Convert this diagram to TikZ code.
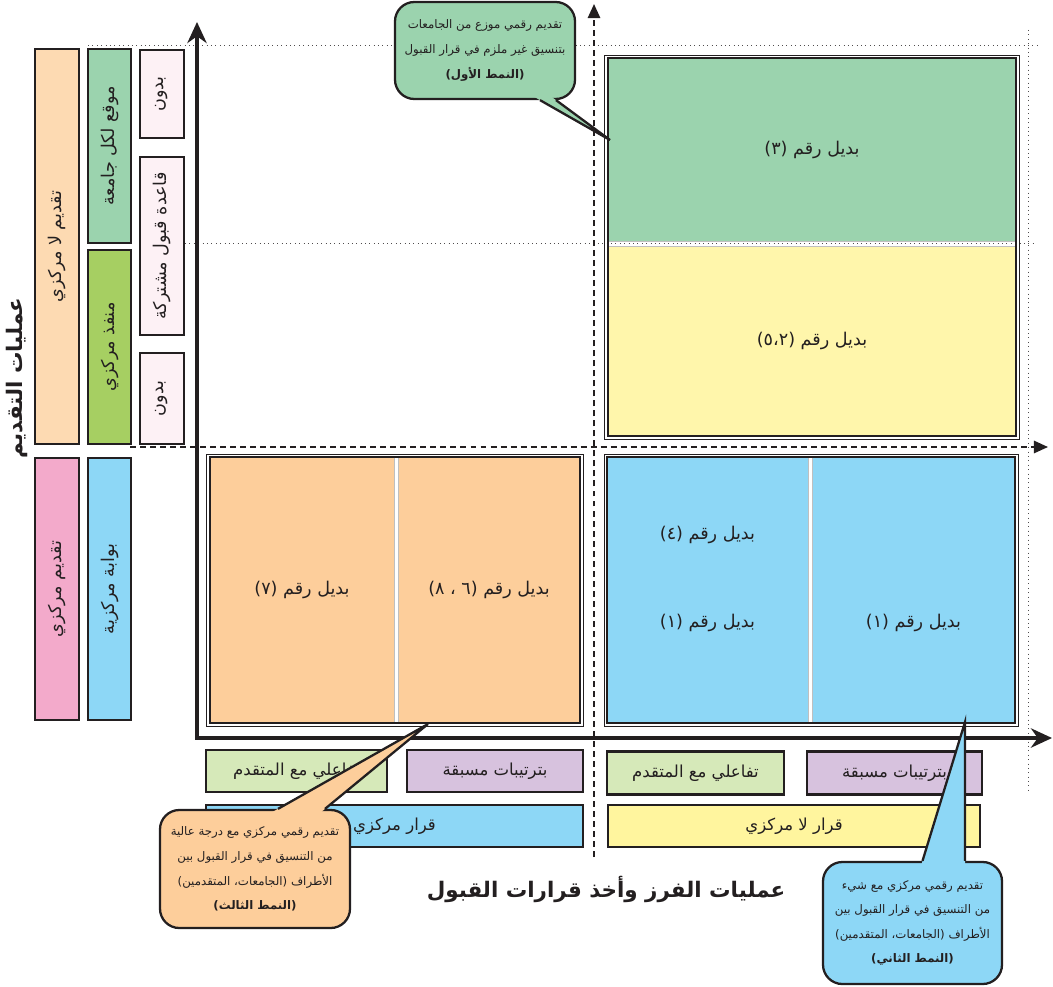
\documentclass[tikz,border=0pt]{standalone}
\usepackage{fontspec}
\newfontfamily\arabicfont[Script=Arabic]{DejaVu Sans}
\TeXXeTstate=1
\usetikzlibrary{arrows.meta,positioning,calc}

\definecolor{qgreen}{HTML}{9BD3AE}
\definecolor{qyellow}{HTML}{FFF6AB}
\definecolor{qblue}{HTML}{8DD7F6}
\definecolor{qorange}{HTML}{FDCE9B}
\definecolor{lorange}{HTML}{FDDAB2}
\definecolor{lpink}{HTML}{F3AACB}
\definecolor{lgreen}{HTML}{A6CF62}
\definecolor{vpink}{HTML}{FDF1F5}
\definecolor{pgreen}{HTML}{D6E9B9}
\definecolor{ppurple}{HTML}{D7C2DE}
\definecolor{byellow}{HTML}{FFF59E}
\definecolor{ink}{HTML}{231F20}

\newcommand{\artxt}[1]{\beginR #1\endR}

\tikzset{
  px/.style 2 args={minimum width=#1*0.02cm, minimum height=#2*0.02cm},
  lbl/.style={font=\arabicfont\fontsize{10}{12}\selectfont, text=ink},
  box/.style={lbl, draw=ink, line width=1.5pt, inner sep=0pt},
  vbox/.style={box, rotate=90},
  cell/.style={lbl, draw=gray!50, line width=0.4pt, inner sep=0pt},
  frame/.style={draw=ink, line width=1.6pt},
  outer/.style={draw=ink, line width=0.5pt},
  bubble/.style={draw=ink, line width=1.3pt, rounded corners=11pt, inner sep=0pt,
    align=center, text=ink, font=\arabicfont\fontsize{6.7}{14}\selectfont},
  tail/.style={draw=ink, line width=1.3pt, line join=miter},
  title/.style={font=\arabicfont\bfseries\fontsize{12.2}{15}\selectfont, text=ink},
  axis/.style={draw=ink, line width=2.8pt},
  guide/.style={draw=ink, dash pattern=on 3.4pt off 2.3pt, line width=1.1pt},
  dots/.style={draw=ink!80, dotted, line width=0.5pt},
}

\begin{document}
\begin{tikzpicture}[x=0.02cm, y=-0.02cm]
  \useasboundingbox (0,0) rectangle (1053,986);

  \draw[dots] (88,45) -- (1040,45);
  \draw[dots] (185,243) -- (1037,243);
  \draw[dots] (1028,30) -- (1028,790);

  \coordinate (o) at (197,738);
  \coordinate (ytop) at (197,22);
  \coordinate (xend) at (1052,738);
  \coordinate (mbot) at (594,857);
  \coordinate (mtop) at (594,4);
  \coordinate (mleft) at (130,447);
  \coordinate (mright) at (1048,447);

  \draw[guide, -{Triangle[length=8pt, width=7pt]}] (mbot) -- (mtop);
  \draw[guide, -{Triangle[length=8pt, width=7pt]}] (mleft) -- (mright);
  \draw[axis, line join=miter, {Stealth[length=12pt, width=11pt]}-{Stealth[length=12pt, width=11pt]}] (ytop) -- (o) -- (xend);

  \begin{scope}[every node/.style={vbox}]
    \node[fill=lorange, px={395}{44}] (cdec) at (57,246.5) {\artxt{تقديم لا مركزي}};
    \node[fill=lpink, px={262}{44}] (ccen) at (57,589) {\artxt{تقديم مركزي}};
    \node[fill=qgreen, px={194}{43}] (site) at (109.5,146) {\artxt{موقع لكل جامعة}};
    \node[fill=lgreen, px={194}{43}] (gate) at (109.5,347) {\artxt{منفذ مركزي}};
    \node[fill=qblue, px={262}{43}] (portal) at (109.5,589) {\artxt{بوابة مركزية}};
    \node[fill=vpink, px={88}{44}] (none1) at (162,94) {\artxt{بدون}};
    \node[fill=vpink, px={178}{44}] (rule) at (162,246) {\artxt{قاعدة قبول مشتركة}};
    \node[fill=vpink, px={91}{44}] (none2) at (162,398.5) {\artxt{بدون}};
  \end{scope}

  \begin{scope}[every node/.style={cell}]
    \node[fill=qgreen, px={408}{183}] (alt3) at (812,149.5) {\artxt{بديل رقم (٣)}};
    \node[fill=qyellow, px={408}{190}] (alt25) at (812,341) {\artxt{بديل رقم (٥،٢)}};
    \node[fill=qblue, px={201}{266}] (alt41) at (707.5,590) {};
    \node[fill=qblue, px={203}{266}] (alt1) at (913.5,590) {};
    \node[fill=qorange, px={184}{266}] (alt7) at (302,590) {\artxt{بديل رقم (٧)}};
    \node[fill=qorange, px={182}{266}] (alt68) at (489,590) {\artxt{بديل رقم (٦ ، ٨)}};
  \end{scope}

  \node[lbl] (t4) at (707.5,535) {\artxt{بديل رقم (٤)}};
  \node[lbl] (t1a) at (707.5,623) {\artxt{بديل رقم (١)}};
  \node[lbl] (t1b) at (913.5,623) {\artxt{بديل رقم (١)}};

  \node[frame, px={408}{378}] (fin3) at (812,247) {};
  \node[outer, px={415}{384}] (fout3) at (811.5,247) {};
  \node[frame, px={408}{266}] (fin4) at (811,590) {};
  \node[outer, px={414}{272}] (fout4) at (811,590) {};
  \node[frame, px={370}{266}] (fin1) at (395,590) {};
  \node[outer, px={377}{272}] (fout1) at (394.5,590) {};

  \begin{scope}[every node/.style={box, font=\arabicfont\fontsize{9.4}{12}\selectfont}]
    \node[fill=pgreen, px={181}{42}] (actl) at (296.5,771) {\artxt{تفاعلي مع المتقدم}};
    \node[fill=ppurple, px={176}{42}] (prel) at (495,771) {\artxt{بترتيبات مسبقة}};
    \node[fill=pgreen, px={177}{43}] (actr) at (695.5,773) {\artxt{تفاعلي مع المتقدم}};
    \node[fill=ppurple, px={175}{43}] (prer) at (894.5,773) {\artxt{بترتيبات مسبقة}};
    \node[fill=qblue, px={377}{42}] (dcen) at (394.5,826) {\artxt{قرار مركزي}};
    \node[fill=byellow, px={372}{42}] (ddec) at (794,826) {\artxt{قرار لا مركزي}};
  \end{scope}

  \node[title, rotate=90] (ytitle) at (17,378) {\artxt{عمليات التقديم}};
  \node[title] (xtitle) at (606,889) {\artxt{عمليات الفرز وأخذ قرارات القبول}};

  \node[bubble, fill=qgreen, px={180}{97}] (note1) at (485,50.5)
    {\artxt{تقديم رقمي موزع من الجامعات}\\\artxt{بتنسيق غير ملزم في قرار القبول}\\\artxt{{\bfseries (النمط الأول)}}};
  \coordinate (tip1) at (610,140);
  \coordinate (a1) at ($(note1.south)+(55,0)$);
  \coordinate (b1) at ($(note1.south)+(71,0)$);
  \fill[qgreen] (tip1) -- ($(tip1)!1.12!(a1)$) -- ($(tip1)!1.12!(b1)$) -- cycle;
  \draw[tail] (a1) -- (tip1) -- (b1);

  \node[bubble, fill=qorange, px={190}{118}] (note3) at (255,869)
    {\artxt{تقديم رقمي مركزي مع درجة عالية}\\\artxt{من التنسيق في قرار القبول بين}\\\artxt{الأطراف (الجامعات، المتقدمين)}\\\artxt{{\bfseries (النمط الثالث)}}};
  \coordinate (tip3) at (428,724);
  \coordinate (a3) at ($(note3.north)+(23,0)$);
  \coordinate (b3) at ($(note3.north)+(70,0)$);
  \fill[qorange] (tip3) -- ($(tip3)!1.08!(a3)$) -- ($(tip3)!1.08!(b3)$) -- cycle;
  \draw[tail] (a3) -- (tip3) -- (b3);

  \node[bubble, fill=qblue, px={179}{122}] (note2) at (912.5,923)
    {\artxt{تقديم رقمي مركزي مع شيء}\\\artxt{من التنسيق في قرار القبول بين}\\\artxt{الأطراف (الجامعات، المتقدمين)}\\\artxt{{\bfseries (النمط الثاني)}}};
  \coordinate (tip2) at (965,722);
  \coordinate (a2) at ($(note2.north)+(10,0)$);
  \coordinate (b2) at ($(note2.north)+(52.5,0)$);
  \fill[qblue] (tip2) -- ($(tip2)!1.08!(a2)$) -- ($(tip2)!1.08!(b2)$) -- cycle;
  \draw[tail] (a2) -- (tip2) -- (b2);
\end{tikzpicture}
\end{document}
